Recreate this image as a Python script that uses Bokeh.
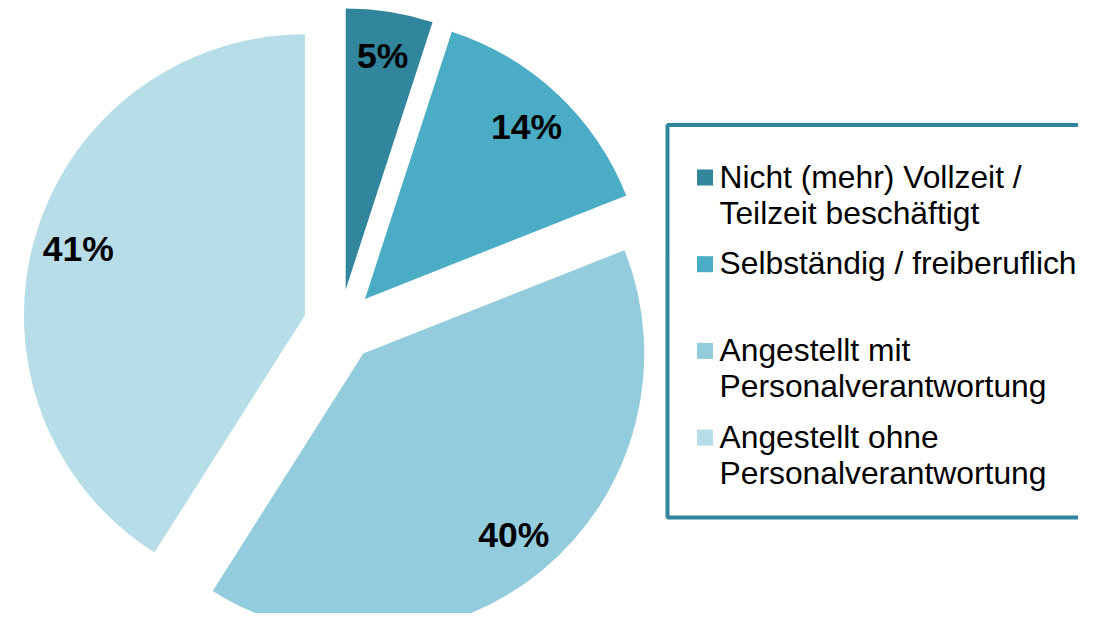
import math
from bokeh.plotting import figure
from bokeh.models import ColumnDataSource, Range1d
from bokeh.core.properties import value
from bokeh.embed import file_html
from bokeh.resources import INLINE

# ---- data ----
categories = [
    "Nicht (mehr) Vollzeit /\nTeilzeit beschäftigt",
    "Selbständig / freiberuflich",
    "Angestellt mit\nPersonalverantwortung",
    "Angestellt ohne\nPersonalverantwortung",
]
shares = [5, 14, 40, 41]
pct_labels = ["5%", "14%", "40%", "41%"]
colors = ["#31859C", "#4BACC6", "#93CDDD", "#B7DEE8"]

# ---- layout (pixel-like data coordinates, y up = -pixel) ----
W, H = 1078, 613
CX, CY = 339.5, 325.0      # pie centre
R = 281.0                   # radius
EXPLODE = 36.5              # explosion distance
LABEL_FR = 0.84

p = figure(width=W, height=H, x_range=Range1d(0, W), y_range=Range1d(-H, 0),
           output_backend="svg", toolbar_location=None, min_border=0,
           x_axis_location=None, y_axis_location=None)
p.grid.visible = False
p.outline_line_color = None
p.background_fill_color = "white"
p.border_fill_color = "white"

total = float(sum(shares))
xs, ys, sa, ea, lx, ly = [], [], [], [], [], []
cum = 0.0
for s in shares:
    t0 = cum / total * 2 * math.pi
    cum += s
    t1 = cum / total * 2 * math.pi
    tm = (t0 + t1) / 2
    cx = CX + EXPLODE * math.sin(tm)
    cy = -CY + EXPLODE * math.cos(tm)
    xs.append(cx)
    ys.append(cy)
    sa.append(math.pi / 2 - t0)
    ea.append(math.pi / 2 - t1)
    lx.append(cx + LABEL_FR * R * math.sin(tm))
    ly.append(cy + LABEL_FR * R * math.cos(tm))

src = ColumnDataSource(dict(x=xs, y=ys, sa=sa, ea=ea, color=colors, lx=lx, ly=ly, lab=pct_labels))
p.wedge(x="x", y="y", radius=R, start_angle="sa", end_angle="ea", direction="clock",
        fill_color="color", line_color=None, source=src)
p.text(x="lx", y="ly", text="lab", source=src, text_align="center", text_baseline="middle",
       text_font=value("Liberation Sans"), text_font_style="bold", text_font_size="35.5px",
       text_color="black")

# ---- legend ----
p.quad(left=[667], right=[1200], top=[-124.5], bottom=[-517], fill_color="white",
       line_color="#31859C", line_width=4)

FIRST_BASE = 187.0
ITEM_PITCH = 86.7
LINE_PITCH = 36.0
TEXT_ADJ = 11.0
sq_x, sq_y, tx, ty, tt = [], [], [], [], []
for i, cat in enumerate(categories):
    base = FIRST_BASE + i * ITEM_PITCH
    sq_x.append(704.5)
    sq_y.append(-(base - 10))
    for j, line in enumerate(cat.split("\n")):
        tx.append(719)
        ty.append(-(base - TEXT_ADJ + j * LINE_PITCH))
        tt.append(line)

p.rect(x=sq_x, y=sq_y, width=16, height=16, fill_color=colors, line_color=None)
p.text(x=tx, y=ty, text=tt, text_align="left", text_baseline="alphabetic",
       text_font=value("Liberation Sans"), text_font_size="31.8px", text_color="black")

open("out.html", "w").write(file_html(p, INLINE))
